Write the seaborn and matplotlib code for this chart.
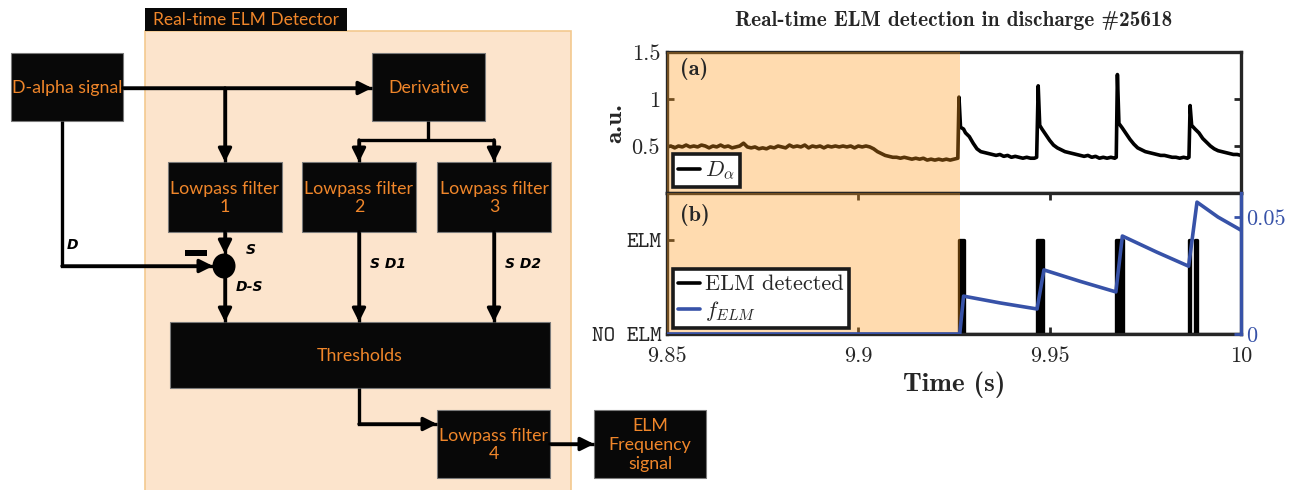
import numpy as np
import pandas as pd
import matplotlib
matplotlib.use("Agg")
import matplotlib.pyplot as plt
import seaborn as sns
from matplotlib.patches import Rectangle, Ellipse, FancyArrowPatch
from matplotlib.lines import Line2D

# ---------------- data ----------------
dalpha_t = [9.850, 9.851, 9.852, 9.853, 9.854, 9.855, 9.856, 9.857, 9.858, 9.859,
            9.860, 9.861, 9.862, 9.863, 9.864, 9.865, 9.866, 9.867, 9.868, 9.869,
            9.870, 9.871, 9.872, 9.873, 9.874, 9.875, 9.876, 9.877, 9.878, 9.879,
            9.880, 9.881, 9.882, 9.883, 9.884, 9.885, 9.886, 9.887, 9.888, 9.889,
            9.890, 9.891, 9.892, 9.893, 9.894, 9.895, 9.896, 9.897, 9.898, 9.899,
            9.900, 9.901, 9.902, 9.903, 9.904, 9.905, 9.906, 9.907, 9.908, 9.909,
            9.910, 9.911, 9.912, 9.913, 9.914, 9.915, 9.916, 9.917, 9.918, 9.919,
            9.920, 9.921, 9.922, 9.923, 9.924, 9.925, 9.926,
            9.9263, 9.9267, 9.9275, 9.928, 9.929, 9.930, 9.931, 9.932, 9.933, 9.934,
            9.935, 9.936, 9.937, 9.938, 9.939, 9.940, 9.941, 9.942, 9.943, 9.944,
            9.945, 9.946, 9.9466,
            9.9470, 9.9474, 9.948, 9.949, 9.950, 9.951, 9.952, 9.953, 9.954, 9.955,
            9.956, 9.957, 9.958, 9.959, 9.960, 9.961, 9.962, 9.963, 9.964, 9.965,
            9.966, 9.967, 9.9674,
            9.9677, 9.9681, 9.969, 9.970, 9.971, 9.972, 9.973, 9.974, 9.975, 9.976,
            9.977, 9.978, 9.979, 9.980, 9.981, 9.982, 9.983, 9.984, 9.985, 9.986,
            9.9864,
            9.9867, 9.9871, 9.988, 9.989, 9.990, 9.991, 9.992, 9.993, 9.994, 9.995,
            9.996, 9.997, 9.998, 9.999, 10.000]
dalpha_v = [0.49, 0.50, 0.48, 0.50, 0.49, 0.51, 0.49, 0.50, 0.49, 0.51,
            0.50, 0.48, 0.50, 0.49, 0.51, 0.49, 0.50, 0.48, 0.49, 0.50,
            0.53, 0.49, 0.48, 0.49, 0.47, 0.48, 0.47, 0.49, 0.48, 0.50,
            0.49, 0.48, 0.51, 0.49, 0.50, 0.49, 0.51, 0.48, 0.50, 0.49,
            0.50, 0.48, 0.50, 0.49, 0.50, 0.49, 0.50, 0.49, 0.50, 0.48,
            0.50, 0.49, 0.50, 0.49, 0.47, 0.44, 0.42, 0.40, 0.39, 0.38,
            0.38, 0.37, 0.38, 0.37, 0.36, 0.37, 0.36, 0.37, 0.35, 0.36,
            0.35, 0.36, 0.35, 0.36, 0.35, 0.36, 0.37,
            1.02, 0.70, 0.68, 0.64, 0.60, 0.53, 0.47, 0.44, 0.43, 0.42,
            0.41, 0.40, 0.41, 0.39, 0.40, 0.38, 0.39, 0.38, 0.37, 0.38,
            0.37, 0.37, 0.38,
            1.14, 0.72, 0.68, 0.62, 0.56, 0.51, 0.48, 0.46, 0.44, 0.43,
            0.42, 0.41, 0.40, 0.39, 0.40, 0.38, 0.39, 0.37, 0.38, 0.37,
            0.38, 0.37, 0.38,
            1.26, 0.74, 0.69, 0.63, 0.57, 0.52, 0.48, 0.46, 0.44, 0.43,
            0.42, 0.41, 0.40, 0.40, 0.39, 0.38, 0.38, 0.37, 0.38, 0.37,
            0.38,
            0.93, 0.72, 0.68, 0.64, 0.58, 0.54, 0.50, 0.47, 0.45, 0.44,
            0.43, 0.42, 0.41, 0.41, 0.40]

elm_start = [9.9263, 9.9467, 9.9673, 9.9863, 9.9881]
elm_end = [9.9275, 9.9483, 9.9692, 9.9866, 9.9884]

felm_t = [9.850, 9.9265, 9.9275, 9.937, 9.9467, 9.9485, 9.958, 9.9673, 9.9690,
          9.978, 9.9863, 9.9872, 9.9885, 9.994, 10.000]
felm_v = [0.0, 0.0, 0.0162, 0.0133, 0.0107, 0.0274, 0.0225, 0.0180, 0.0419,
          0.0350, 0.0290, 0.0400, 0.0564, 0.0500, 0.0444]

shade_end = 9.9265
time_range = [9.85, 10.0]
xticks = [9.85, 9.9, 9.95, 10.0]
xtick_labels = ["9.85", "9.9", "9.95", "10"]
a_yticks = [0.5, 1.0, 1.5]
a_ytick_labels = ["0.5", "1", "1.5"]
b_yticks = [0, 1]
b_ytick_labels = ["NO ELM", "ELM"]
f_yticks = [0, 0.05]
f_ytick_labels = ["0", "0.05"]

title = "Real-time ELM detection in discharge #25618"

# ---------------- style ----------------
sns.set_theme(style="white")
plt.rcParams.update({
    "font.family": ["cmr10", "DejaVu Serif"],
    "mathtext.fontset": "cm",
    "axes.unicode_minus": False,
    "axes.formatter.use_mathtext": True,
})

W, H = 1297, 490
fig = plt.figure(figsize=(W / 100, H / 100), dpi=100)

# ---------------- block diagram (pixel space) ----------------
ax0 = fig.add_axes([0, 0, 1, 1])
ax0.set_xlim(0, W)
ax0.set_ylim(H, 0)
ax0.axis("off")

DFONT = ["Lato", "DejaVu Sans"]
ORANGE = "#F0862A"
ax0.add_patch(Rectangle((145, 31), 426, 470, fc="#FCE4CC", ec="#F3C98F", lw=1.2, zorder=0))
ax0.add_patch(Rectangle((145, 8), 202, 23, fc="#080808", ec="none", zorder=1))
ax0.text(246, 20, "Real-time ELM Detector", color=ORANGE, family=DFONT, fontsize=12.5,
         ha="center", va="center", zorder=2)

boxes = [
    (11, 53, 123, 121, "D-alpha signal"),
    (372, 53, 485, 121, "Derivative"),
    (168, 162, 282, 232, "Lowpass filter\n1"),
    (302, 162, 416, 232, "Lowpass filter\n2"),
    (437, 162, 551, 232, "Lowpass filter\n3"),
    (170, 322, 550, 388, "Thresholds"),
    (437, 410, 550, 478, "Lowpass filter\n4"),
    (594, 410, 706, 478, "ELM\nFrequency\nsignal"),
]
for x0, y0, x1, y1, txt in boxes:
    ax0.add_patch(Rectangle((x0, y0), x1 - x0, y1 - y0, fc="#080808", ec="#7a7a7a",
                            lw=0.8, zorder=3))
    ax0.text((x0 + x1) / 2, (y0 + y1) / 2 + 1, txt, color=ORANGE, family=DFONT,
             fontsize=12.8, ha="center", va="center", linespacing=1.2, zorder=4)

LW = 2.4


def path_arrow(pts, head=True):
    xs = [p[0] for p in pts]
    ys = [p[1] for p in pts]
    ax0.plot(xs, ys, color="black", lw=LW, solid_joinstyle="miter",
             solid_capstyle="butt", zorder=5)
    if head:
        ar = FancyArrowPatch(pts[-2], pts[-1], arrowstyle="-|>", mutation_scale=20,
                             lw=LW, color="black", shrinkA=0, shrinkB=0, zorder=5)
        ax0.add_patch(ar)


path_arrow([(123, 88), (372, 88)])
path_arrow([(225, 88), (225, 162)])
path_arrow([(428, 121), (428, 141)], head=False)
path_arrow([(358, 140), (495, 140)], head=False)
path_arrow([(359, 140), (359, 162)])
path_arrow([(494, 140), (494, 162)])
path_arrow([(225, 232), (225, 254)])
path_arrow([(62, 121), (62, 266), (213, 266)])
path_arrow([(225, 276), (225, 322)])
path_arrow([(359, 232), (359, 322)])
path_arrow([(494, 232), (494, 322)])
path_arrow([(359, 388), (359, 424), (437, 424)])
path_arrow([(550, 444), (594, 444)])

ax0.add_patch(Ellipse((224, 266), 23, 25, fc="black", ec="none", zorder=6))
ax0.add_patch(Rectangle((185, 250), 22, 6, fc="black", ec="none", zorder=6))
lab_kw = dict(family="DejaVu Sans", fontsize=10, fontweight="bold", style="italic",
              color="black", va="center", ha="left", zorder=6)
ax0.text(67, 245, "D", **lab_kw)
ax0.text(246, 250, "S", **lab_kw)
ax0.text(236, 287, "D-S", **lab_kw)
ax0.text(370, 264, "S D1", **lab_kw)
ax0.text(505, 264, "S D2", **lab_kw)

# ---------------- plots ----------------
px_l, px_r = 667, 1241
ya_t, ya_b, yb_b = 52, 193, 334
ax_a = fig.add_axes([px_l / W, 1 - ya_b / H, (px_r - px_l) / W, (ya_b - ya_t) / H])
ax_b = fig.add_axes([px_l / W, 1 - yb_b / H, (px_r - px_l) / W, (yb_b - ya_b) / H])
ax_f = ax_b.twinx()

BLUE = "#3752A8"
SPINE = "#262626"
SHADE = (1.0, 0.6, 0.1)

df_a = pd.DataFrame({"t": dalpha_t, "v": dalpha_v})
sns.lineplot(data=df_a, x="t", y="v", ax=ax_a, color="black", lw=2.6,
             estimator=None, sort=False, legend=False)

# ELM detection step signal from start/end times
st, sv = [time_range[0]], [0]
for s, e in zip(elm_start, elm_end):
    st += [s, s, e, e]
    sv += [0, 1, 1, 0]
st.append(time_range[1])
sv.append(0)
df_b = pd.DataFrame({"t": st, "v": sv})
sns.lineplot(data=df_b, x="t", y="v", ax=ax_b, color="black", lw=2.4,
             estimator=None, sort=False, legend=False)
ax_b.fill_between(df_b["t"], df_b["v"], color="black", lw=0)

df_f = pd.DataFrame({"t": felm_t, "v": felm_v})
sns.lineplot(data=df_f, x="t", y="v", ax=ax_f, color=BLUE, lw=2.6,
             estimator=None, sort=False, legend=False)

for ax in (ax_a, ax_b):
    ax.axvspan(time_range[0], shade_end, color=SHADE, alpha=0.35, lw=0, zorder=3)
    ax.set_xlim(*time_range)
    for sp in ax.spines.values():
        sp.set_color(SPINE)
        sp.set_linewidth(2.4)
        sp.set_zorder(2.6)
for sp in ax_f.spines.values():
    sp.set_visible(False)
ax_f.spines["right"].set_visible(True)
ax_f.spines["right"].set_color(BLUE)
ax_f.spines["right"].set_linewidth(2.4)

ax_a.set_ylim(0, 1.5)
ax_a.set_yticks(a_yticks, labels=a_ytick_labels, fontsize=16)
ax_a.set_xticks([])
ax_a.tick_params(axis="y", direction="in", length=5, width=2, left=True, right=True,
                 color=SPINE, pad=5)
ax_a.set_xlabel("")
ax_a.set_ylabel("a.u.", family="cmb10", fontsize=18, labelpad=4)
ax_a.text(0.022, 0.84, "(a)", transform=ax_a.transAxes, family="cmb10", fontsize=16,
          zorder=6)

ax_b.set_ylim(0, 1.5)
ax_b.set_xlim(*time_range)
ax_b.set_yticks(b_yticks, labels=b_ytick_labels, family="cmtt10", fontsize=16)
ax_b.set_xticks(xticks, labels=xtick_labels, fontsize=16)
ax_b.tick_params(axis="both", direction="in", length=5, width=2, color=SPINE,
                 top=True, bottom=True, left=True, right=False, pad=4)
ax_b.tick_params(axis="x", pad=9)
ax_b.set_ylabel("")
ax_b.set_xlabel("Time (s)", family="cmb10", fontsize=19.5, labelpad=4)
ax_b.text(0.022, 0.8, "(b)", transform=ax_b.transAxes, family="cmb10", fontsize=16,
          zorder=6)

ax_f.set_ylim(0, 0.0603)
ax_f.set_yticks(f_yticks, labels=f_ytick_labels, fontsize=16)
ax_f.tick_params(axis="y", direction="in", length=5, width=2, colors=BLUE, pad=4)
ax_f.set_ylabel("")

leg_kw = dict(loc="lower left", frameon=True, fancybox=False, framealpha=1,
              facecolor="white", edgecolor="#1a1a1a", fontsize=16, handlelength=1.0,
              handletextpad=0.2, borderpad=0.25, borderaxespad=0.25, labelspacing=0.2)
la = ax_a.legend(handles=[Line2D([], [], color="black", lw=2.6)], labels=[r"$D_\alpha$"],
                 **leg_kw)
la.get_frame().set_linewidth(2.6)
la.set_zorder(10)
lb = ax_f.legend(handles=[Line2D([], [], color="black", lw=2.6),
                          Line2D([], [], color=BLUE, lw=2.6)],
                 labels=["ELM detected", r"$f_{ELM}$"], **leg_kw)
lb.get_frame().set_linewidth(2.6)
lb.set_zorder(10)

fig.text((px_l + px_r) / 2 / W, 1 - 20 / H, title, family="cmb10", fontsize=15.3,
         ha="center", va="center")

fig.savefig("out.png", dpi=100)
